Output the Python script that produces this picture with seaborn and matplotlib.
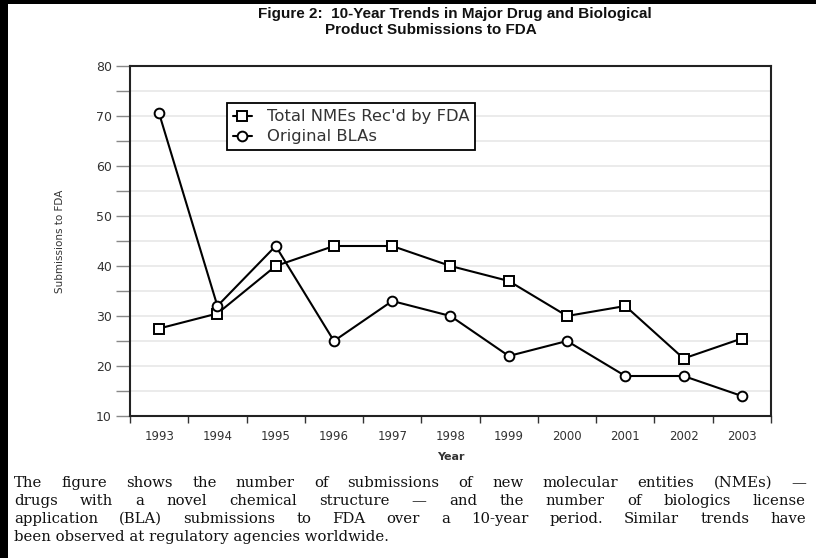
import matplotlib
matplotlib.use("Agg")
import matplotlib.pyplot as plt
import matplotlib.transforms as mtransforms
from matplotlib.patches import Rectangle
import seaborn as sns
import pandas as pd

# chart data
years = [1993, 1994, 1995, 1996, 1997, 1998, 1999, 2000, 2001, 2002, 2003]
nme_total = [27.5, 30.5, 40, 44, 44, 40, 37, 30, 32, 21.5, 25.5]
original_bla = [70.5, 32, 44, 25, 33, 30, 22, 25, 18, 18, 14]
series_names = ["Total NMEs Rec'd by FDA", "Original BLAs"]
y_major = [10, 20, 30, 40, 50, 60, 70, 80]

title_lines = [
    "Figure 2:  10-Year Trends in Major Drug and Biological",
    "Product Submissions to FDA",
]
caption_lines = [
    "The figure shows the number of submissions of new molecular entities (NMEs) \u2014",
    "drugs with a novel chemical structure \u2014 and the number of biologics license",
    "application (BLA) submissions to FDA over a 10-year period.  Similar trends have",
    "been observed at regulatory agencies worldwide.",
]

df = pd.concat([
    pd.DataFrame({"Year": years, "Submissions": nme_total, "Series": series_names[0]}),
    pd.DataFrame({"Year": years, "Submissions": original_bla, "Series": series_names[1]}),
])

sns.set_style("white")
plt.rcParams["font.family"] = ["DejaVu Sans"]

W, H = 816, 558
fig = plt.figure(figsize=(W / 100, H / 100), dpi=100, facecolor="black")
fig.patches.append(Rectangle((8 / W, 0), 1, 1 - 4 / H, transform=fig.transFigure,
                             facecolor="white", edgecolor="none", zorder=-10))

ax = fig.add_axes([130 / W, (H - 416) / H, 641 / W, 350 / H])
ax.set_facecolor("white")

sns.lineplot(data=df, x="Year", y="Submissions", style="Series",
             markers=["s", "o"], dashes=False, color="black",
             linewidth=1.5, markersize=7, markeredgewidth=1.4,
             markeredgecolor="black", markerfacecolor="white",
             legend=False, ax=ax, zorder=3)

ax.set_xlim(1992.5, 2003.5)
ax.set_ylim(10, 80)
ax.set_xticks(years)
ax.set_xticklabels([str(y) for y in years])
ax.set_xticks([y - 0.5 for y in years] + [2003.5], minor=True)
ax.set_yticks(y_major)
ax.set_yticks(range(15, 80, 10), minor=True)
ax.yaxis.grid(True, which="both", color="#e8e8e8", linewidth=1.2, zorder=0)
ax.set_axisbelow(True)

ax.tick_params(axis="x", which="major", bottom=True, length=0, pad=10,
               labelsize=8.5, labelcolor="#333")
ax.tick_params(axis="x", which="minor", bottom=True, length=5, width=1,
               color="#333", direction="out")
ax.tick_params(axis="y", which="both", left=True, length=10, width=1,
               color="#888", direction="out", labelsize=9, labelcolor="#333", pad=3)

for side in ["left", "bottom", "top", "right"]:
    ax.spines[side].set_visible(True)
    ax.spines[side].set_color("#222")
    ax.spines[side].set_linewidth(1.5)

ax.set_xlabel("Year", fontsize=8, fontweight="bold", color="#333")
ax.set_ylabel("Submissions to FDA", fontsize=7.5, color="#333")
ax.xaxis.set_label_coords(0.5, -0.102)
ax.yaxis.set_label_coords(-0.101, 0.5)

leg = ax.legend(handles=ax.lines[:2], labels=series_names, loc="upper left",
                bbox_to_anchor=(0.151, 0.894), borderaxespad=0, fancybox=False,
                fontsize=11.8, handlelength=1.15, handletextpad=0.9,
                borderpad=0.38, labelspacing=0.3, framealpha=1)
leg.get_frame().set_edgecolor("black")
leg.get_frame().set_linewidth(1.3)
for t in leg.get_texts():
    t.set_color("#333")

# title
px = mtransforms.IdentityTransform()
fig.text(258, H - 14, title_lines[0], transform=px, ha="left", va="center",
         fontsize=11, fontweight="bold", family="Liberation Sans", color="#111")
fig.text(325, H - 30, title_lines[1], transform=px, ha="left", va="center",
         fontsize=11, fontweight="bold", family="Liberation Sans", color="#111")

# caption, justified except the last line
renderer = fig.canvas.get_renderer()
cap_kw = dict(transform=px, ha="left", va="center", fontsize=10.7,
              family="DejaVu Serif", color="#111")
x0, x1 = 14, 806
line_y = [483, 501, 519, 537]
for i, (line, ly) in enumerate(zip(caption_lines, line_y)):
    if i == len(caption_lines) - 1:
        fig.text(x0, H - ly, line, **cap_kw)
        continue
    words = line.split()
    objs = [fig.text(0, H - ly, w, **cap_kw) for w in words]
    widths = [o.get_window_extent(renderer).width for o in objs]
    gap = (x1 - x0 - sum(widths)) / (len(words) - 1)
    x = x0
    for o, w in zip(objs, widths):
        o.set_x(x)
        x += w + gap

fig.savefig("out.png", dpi=100, facecolor=fig.get_facecolor())
